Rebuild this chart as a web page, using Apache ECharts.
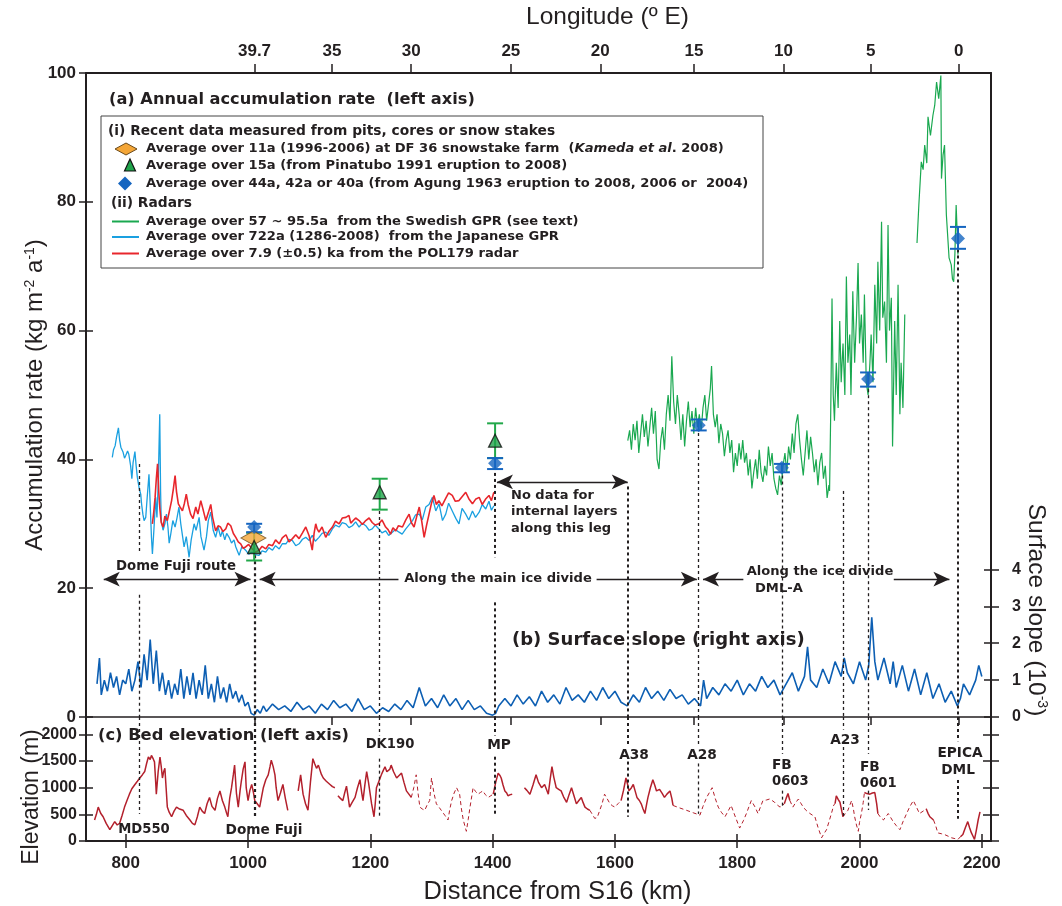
<!DOCTYPE html>
<html><head><meta charset="utf-8">
<script src="https://cdn.jsdelivr.net/npm/echarts@6/dist/echarts.min.js"></script>
<style>html,body{margin:0;padding:0;background:#fff}#c{width:1062px;height:906px}</style>
</head><body><div id="c"></div><script>
// ---------------- DATA ----------------
const distTicks = [800, 1000, 1200, 1400, 1600, 1800, 2000, 2200];
const lonTickKm = [1010.6, 1137.2, 1266.7, 1429.8, 1576, 1729.3, 1875.5, 2018.3, 2162.2];
const lonTickLabels = ['39.7', '35', '30', '25', '20', '15', '10', '5', '0'];
const slopeTicks = [0, 1, 2, 3, 4];
const elevTicks = [0, 500, 1000, 1500, 2000];

// Japanese GPR (722a) accumulation, [km, kg m-2 a-1]
const japaneseGpr = [[778,40.3],[780,41.5],[782.6,42.1],[785,43.5],[788,44.9],[790,43],[792,41.9],[795.7,41.1],[798,40.2],[800,40.6],[803,41.3],[805,40.8],[808,39],[810,37],[812,39.5],[815,41.2],[817,39],[819,37.2],[822,35.5],[824.5,34.6],[826,33],[828,31.5],[830,30.5],[832.7,31],[835,34],[838,37.7],[840,33],[842,28],[843.6,25.3],[846,29],[849,34.1],[851,31],[853,36],[855.6,47],[857,35],[858,30.5],[861,29],[864,30],[866.5,31.5],[869,29.5],[871,27],[873.6,28.4],[877,30.5],[880.7,29.5],[884,31],[887,32.6],[890,30],[893,28],[895.4,26.4],[899,28],[903.6,24.8],[907,27.5],[911.8,30],[915,29],[920,31],[923,28],[928,25.9],[932,28],[935,30.5],[939,31.8],[943,29],[947,27.9],[951,29.5],[955,28],[958,28.9],[962,27.5],[965,28.5],[969,27.9],[973,27],[977,27.5],[980,26.4],[985.4,25.1],[990,26.5],[996,25.9],[1001,25.3],[1007,25.6],[1012,25.2],[1018,25.1],[1023,25.8],[1029,25.6],[1034,26.3],[1040,25.9],[1045,26.6],[1051,26.1],[1056,26.9],[1062,26.9],[1067,27.6],[1072.6,27.4],[1078,26.6],[1083.5,26.9],[1089,27.6],[1094.4,27.9],[1100,27.4],[1105,28.2],[1110,27.3],[1116,27.9],[1121,28.5],[1127,28.7],[1132,28.2],[1138,29.2],[1143,29.8],[1149,29.5],[1154,30.2],[1160,30],[1165,29.4],[1170.7,29.7],[1176,30.3],[1181.6,29.5],[1187,30.1],[1192.5,29.7],[1198,29],[1203,29.2],[1208,29.8],[1214,29.2],[1219,28.6],[1225,28.9],[1230,28.2],[1236,28.7],[1241,29.1],[1247,28.7],[1252,28.4],[1258,29.2],[1263,29.8],[1269,30.5],[1274,31.4],[1280,31.5],[1285,30.6],[1290.6,32.6],[1296,33],[1301.5,34.1],[1307,32],[1312.4,33.1],[1318,30.5],[1323.3,31.5],[1328,33.2],[1334,32],[1340,30.8],[1345,30],[1350,32.4],[1356,31.5],[1361,30.6],[1367,32],[1372,31],[1378,31.8],[1383,33],[1388.7,32.3],[1394,33.5],[1398,32.1],[1402,32.8]];

// POL179 radar (7.9 ka) accumulation
const pol179 = [[843.6,30],[846,32],[848,34.1],[850,37],[852,39.3],[854,35],[855.6,32.6],[858,30.2],[861,29.5],[864,31.2],[868,30.5],[871,31.8],[875,33.6],[878,35.5],[880.7,37.5],[883,35],[886,33.1],[889,32.6],[892.7,32],[896,33.2],[899,34.6],[902,33],[906,31.5],[910,30.8],[914.5,32.6],[918,31.5],[922.7,33.6],[926,32.4],[931,30.5],[935,31.7],[939,33],[942,31],[947,28.9],[951,29.7],[955,29.5],[959,28.8],[963.5,29.2],[967,30.1],[971.7,29.7],[976,28.5],[980,27.9],[984,27.2],[988,26.9],[992,26.2],[996,26.4],[1001,26.8],[1007,26.1],[1012,25.6],[1018,25.9],[1023,26.5],[1029,26.1],[1034,26.8],[1040,26.6],[1045,27.5],[1051,26.9],[1056,27.8],[1062,28.3],[1067,27.2],[1072.6,27.7],[1078,28.3],[1083.5,27.7],[1089,28.6],[1094.4,29.5],[1100,28.1],[1105,25.9],[1108,28.5],[1110.7,30],[1113,29.2],[1116,28.7],[1121,29.5],[1127,27.9],[1132,28.8],[1138,29.5],[1143,30.4],[1149,30],[1154,30.9],[1160,31],[1165,31.3],[1168,30.1],[1170.7,30.2],[1176,30.9],[1181.6,30.5],[1187,29.9],[1192.5,30.5],[1198,30.9],[1203,30.2],[1208,29.8],[1214,30],[1219,30.6],[1225,29.5],[1229,29.1],[1233,28.4],[1237,29.4],[1241.6,28.9],[1246,29.7],[1252.5,29.5],[1258,30.6],[1263.4,31.5],[1267,30.2],[1271.5,29.5],[1276,31.2],[1280,32.6],[1284,30.4],[1288,27.9],[1292,29.8],[1296,31.5],[1300,33.2],[1304,34.4],[1308,33],[1312,33.6],[1317,32.8],[1323,33.9],[1328,34.8],[1334,34.4],[1339,33.5],[1345,33.6],[1350,34.2],[1356,34.9],[1361,33.9],[1367,33.1],[1372,33.8],[1378,34.1],[1383,33],[1389,33.9],[1394,34.4],[1398,33.6],[1402,34.9]];

// Swedish GPR accumulation (null = gap)
const swedishGpr = [[1621,42.9],[1624,44.5],[1627,41.5],[1630,45.5],[1633,43],[1636,46],[1639,41],[1642,44],[1645,47],[1648,43.5],[1651,46],[1654,42],[1657,45],[1660,48],[1663,44],[1666,47.5],[1669,40],[1672,38.5],[1675,43],[1678,45],[1681,41.5],[1684,47],[1687,50],[1690,46],[1693,56],[1696,49],[1699,45.5],[1702,50],[1705,47],[1708,43],[1711,47],[1714,42],[1717,46],[1720,49],[1723,45],[1726,47.5],[1729,44],[1732,48],[1735,45],[1738,47],[1741,44.5],[1744,48],[1747,50],[1750,46],[1753,48.5],[1756,51],[1758,54.5],[1761,47],[1764,45],[1767,47],[1770,42.5],[1773,45.5],[1776,44],[1779,40.5],[1782,43],[1785,44.5],[1788,41],[1791,43],[1794,38],[1797,41],[1800,39],[1803,42.5],[1806,40],[1809,43],[1812,39.5],[1815,41],[1818,37.5],[1821,40],[1824,35.5],[1827,38],[1830,40],[1833,37],[1836,41.5],[1839,38],[1842,36.5],[1845,39],[1848,37.5],[1851,42],[1854,39],[1857,41],[1860,37],[1863,35.5],[1866,34.5],[1869,37.5],[1872,36],[1875,39],[1878,41],[1881,38],[1884,42],[1887,40],[1890,44],[1893,41],[1896,45.5],[1899,47],[1902,43],[1905,40],[1908,37.5],[1911,41],[1914,44.5],[1917,40],[1920,43.5],[1923,41],[1926,38],[1929,40],[1932,36],[1935,39.5],[1938,41],[1941,37],[1944,39],[1947,34],[1950,36],[1951,35.1],[1953,48],[1955,65],[1957,50],[1959,46],[1962,55],[1965,48],[1967.6,61.5],[1970,52],[1973,58],[1976,50],[1978.5,68.4],[1981,55],[1984,59.4],[1986,50],[1989,66.1],[1992,55],[1995,62],[1997.6,70.5],[2000,58],[2003,62.5],[2006,55],[2008,65.6],[2011,52],[2014,50],[2017,55],[2019,59.4],[2022,52],[2025,67.1],[2028,58],[2030,70.7],[2033,60],[2036,76.9],[2038,62],[2041,64.5],[2044,55],[2046.6,76.4],[2049,60],[2052,65.1],[2054,42],[2057.5,61.5],[2060,50],[2063,67.1],[2066,47],[2068,55],[2071,48],[2074,62.5],null,[2094,73.6],[2097,79.5],[2101,86.2],[2104,85],[2106.6,88.8],[2110,86],[2112,93.2],[2116,90.3],[2120,93.4],[2123,95],[2126,98.6],[2129.5,96],[2133,99.6],[2134,83.6],[2136.6,87.3],[2139,88.8],[2142,78],[2146.4,71.3],[2150,70.2],[2152,68],[2154,67.6],[2156,72],[2158,79.5],[2161,71.8]];

// Surface slope (10^-3)
const surfaceSlope = [[753,0.9],[757,1.6],[760,0.6],[765,1.0],[770,0.7],[775,1.2],[780,0.8],[785,1.1],[790,0.6],[795,1.0],[800,0.9],[805,1.3],[810,0.7],[815,1.0],[820,1.5],[825,0.8],[830,1.7],[835,1.0],[840,2.1],[845,0.9],[850,1.8],[855,0.7],[860,1.2],[865,0.6],[870,1.0],[875,0.5],[880,0.9],[885,0.6],[890,1.3],[895,0.5],[900,1.1],[905,0.6],[910,1.2],[915,0.5],[920,1.0],[925,0.6],[930,1.4],[935,0.5],[940,0.9],[945,0.4],[950,1.1],[955,0.5],[960,0.8],[965,0.4],[970,0.9],[975,0.5],[980,0.7],[985,0.4],[990,0.6],[995,0.3],[1000,0.4],[1005,0.1],[1010,0.05],[1015,0.2],[1020,0.1],[1025,0.3],[1030,0.15],[1040,0.35],[1050,0.2],[1060,0.3],[1070,0.15],[1080,0.4],[1090,0.2],[1100,0.3],[1110,0.1],[1120,0.35],[1130,0.2],[1140,0.45],[1150,0.25],[1160,0.35],[1170,0.15],[1180,0.5],[1190,0.2],[1200,0.3],[1210,0.1],[1220,0.25],[1230,0.15],[1240,0.35],[1250,0.2],[1260,0.45],[1270,0.25],[1280,0.8],[1290,0.3],[1300,0.5],[1310,0.25],[1320,0.6],[1330,0.3],[1340,0.5],[1350,0.2],[1360,0.45],[1370,0.2],[1380,0.3],[1390,0.1],[1400,0.05],[1405,0.1],[1410,0.3],[1420,0.5],[1430,0.3],[1440,0.6],[1450,0.35],[1460,0.55],[1470,0.3],[1480,0.7],[1490,0.4],[1500,0.6],[1510,0.35],[1520,0.8],[1530,0.45],[1540,0.6],[1550,0.4],[1560,0.7],[1570,0.45],[1580,0.8],[1590,0.5],[1600,0.7],[1610,0.4],[1620,0.3],[1630,0.6],[1640,0.4],[1650,0.8],[1660,0.5],[1670,0.7],[1680,0.45],[1690,0.75],[1700,0.5],[1710,0.6],[1720,0.35],[1730,0.5],[1740,0.3],[1745,1.0],[1750,0.5],[1760,0.8],[1770,0.6],[1780,0.9],[1790,0.7],[1800,1.0],[1810,0.6],[1820,0.9],[1830,0.7],[1840,1.1],[1850,0.8],[1860,1.0],[1870,0.6],[1880,0.9],[1890,1.2],[1900,0.7],[1910,1.1],[1915,1.9],[1920,1.0],[1930,0.8],[1940,1.3],[1950,0.9],[1960,1.5],[1970,1.1],[1975,1.6],[1980,1.2],[1990,0.9],[2000,1.5],[2010,1.0],[2015,1.4],[2020,2.7],[2025,1.5],[2030,1.0],[2040,1.6],[2050,0.9],[2055,1.5],[2060,0.8],[2070,1.4],[2080,0.7],[2090,1.3],[2100,0.6],[2110,1.2],[2120,0.5],[2130,0.9],[2140,0.4],[2150,0.7],[2160,0.3],[2165,0.5],[2170,0.9],[2180,0.6],[2190,1.0],[2195,1.4],[2200,1.1]];

// Bed elevation (m): measured (solid) and interpolated (dashed) parts
const bedSolid = [[749,394],[752,500],[755,636],[759,520],[763,455],[768,330],[774,212],[778,290],[782,364],[786,300],[790,333],[794,480],[798,636],[802,760],[806,879],[810,980],[815,1061],[819,1120],[823,1182],[827,1240],[831,1303],[834,1450],[837,1576],[840,1530],[842,1606],[845,1540],[847,1485],[849,1100],[850,879],[853,1300],[856,1576],[858,1400],[860,1182],[862,1300],[864,1364],[866,1000],[868,636],[871,540],[875,455],[879,560],[883,636],[888,600],[894,576],[899,480],[905,394],[909,330],[913,303],[917,450],[921,636],[925,560],[929,515],[933,700],[937,818],[941,650],[946,576],[950,800],[954,940],[958,760],[962,636],[965,520],[967,455],[970,800],[973,1000],[976,1250],[978,1424],[981,900],[984,636],[987,950],[989,1121],[992,1350],[995,1485],[997,1000],[1000,758],[1003,950],[1006,1061],[1009,900],[1011,758],[1015,700],[1019,636],[1022,820],[1025,1000],[1029,1150],[1033,1242],[1036,1400],[1038,1515],[1041,1400],[1044,1242],[1046,1000],[1049,758],[1053,900],[1057,1061],[1061,800],[1065,576],null,[1082,940],[1086,1242],[1090,879],[1094,700],[1098,576],[1102,1100],[1106,1545],[1109,1450],[1112,1364],[1115,1424],[1117,1424],[1120,1250],[1123,1182],[1126,1150],[1128,1121],[1131,1100],[1134,1061],[1138,1020],[1142,1000],null,[1147,849],[1151,800],[1155,758],[1158,900],[1161,1030],[1164,800],[1166,636],[1170,720],[1175,818],[1179,1000],[1183,1151],[1186,900],[1188,758],[1191,1050],[1194,1303],[1197,1100],[1199,940],[1202,700],[1206,455],[1208,700],[1210,1000],[1214,1120],[1218,1242],[1221,1320],[1224,1394],[1227,1300],[1229,1273],[1232,1350],[1234,1424],[1238,1300],[1243,1182],[1247,1230],[1251,1273],[1255,1100],[1259,940],[1263,880],[1267,818],null,[1401,879],[1405,1100],[1409,1273],[1412,1230],[1414,1182],[1417,1050],[1420,940],[1423,900],[1425,849],[1429,870],[1432,879],null,[1452,1000],[1456,950],[1461,879],[1466,1050],[1471,1242],[1475,1100],[1480,1000],[1485,1061],[1491,879],[1494,1150],[1497,1394],[1500,1200],[1504,1000],[1508,970],[1512,940],[1516,830],[1521,727],[1525,870],[1529,1000],[1533,850],[1537,697],[1541,760],[1545,818],[1548,720],[1551,636],[1555,600],[1559,576],null,[1610,758],[1614,950],[1618,1182],[1621,1050],[1623,940],[1627,1000],[1630,1061],[1633,940],[1636,818],[1640,760],[1643,697],[1646,600],[1649,515],[1652,700],[1654,818],[1658,1000],[1662,1151],[1665,1050],[1668,940],[1671,960],[1673,970],[1677,900],[1681,818],[1685,880],[1690,940],[1693,800],[1695,667],null,[1877,697],[1880,800],[1883,891],[1886,760],null,[1960,700],[1962,849],[1965,780],[1968,727],[1971,560],[1973,455],null,[2008,909],[2012,890],[2017,879],[2021,900],[2025,909],[2028,700],[2030,515],null,[2109,606],[2112,520],[2115,455],[2118,420],[2121,394],null,[2165,80],[2169,121],[2173,250],[2177,364],[2180,250],[2183,152],[2186,80],[2188,30],[2191,200],[2194,394],[2197,546]];
const bedDashed = [[1267,818],[1271,1000],[1275,1242],[1278,900],[1281,636],[1285,600],[1289,576],[1293,680],[1297,758],[1300,1182],[1304,900],[1308,697],[1312,640],[1316,576],[1322,480],[1327,394],[1330,600],[1333,758],[1337,900],[1341,1000],[1346,879],[1349,600],[1352,394],[1357,182],[1360,400],[1363,636],[1366,850],[1368,1000],[1372,930],[1376,879],[1380,910],[1384,940],[1388,870],[1393,818],[1397,850],[1401,879],null,[1559,576],[1563,500],[1567,424],[1571,440],[1574,455],[1579,700],[1583,879],[1587,800],[1592,697],[1596,660],[1600,636],[1605,700],[1610,758],null,[1695,667],[1706,620],[1717,576],[1728,530],[1739,485],[1744,650],[1750,818],[1755,920],[1759,1000],[1764,800],[1769,636],[1774,540],[1780,455],[1785,560],[1790,667],[1797,450],[1804,243],[1810,380],[1815,515],[1819,640],[1823,758],[1829,640],[1834,515],[1838,640],[1842,758],[1848,770],[1853,788],[1857,760],[1861,727],[1865,680],[1870,636],[1874,670],[1877,697],null,[1886,760],[1891,636],[1895,710],[1900,788],[1904,710],[1908,636],[1913,570],[1919,515],[1923,485],[1927,455],[1932,260],[1938,61],[1942,140],[1946,212],[1950,360],[1954,515],[1958,680],[1960,700],null,[1973,455],[1977,520],[1981,576],[1984,670],[1987,758],[1990,600],[1992,455],[1995,300],[1998,182],[2000,350],[2003,515],[2006,720],[2008,909],null,[2030,515],[2034,450],[2039,394],[2043,455],[2047,515],[2051,440],[2055,364],[2060,290],[2066,212],[2071,360],[2077,515],[2082,640],[2088,758],[2093,640],[2098,515],[2104,560],[2109,606],null,[2121,394],[2125,270],[2128,152],[2134,136],[2139,121],[2145,90],[2150,61],[2156,45],[2161,30],[2165,80]];

// Point measurements
const snowStake = [[1008.8, 27.8]];
const pinatubo = [[1010, 26.4], [1215.3, 34.9], [1404, 42.9]];
const pinatuboErr = [[1010, 24.3, 28.6], [1215.3, 32.2, 37.0], [1404, 40.2, 45.6]];
const agung = [[1010, 29.5], [1404, 39.4], [1737, 45.3], [1873, 38.7], [2014, 52.5], [2161, 74.3]];
const agungErr = [[1010, 28.7, 30.0], [1404, 38.5, 40.2], [1737, 44.5, 46.2], [1873, 38.0, 39.3], [2014, 51.3, 53.5], [2161, 72.7, 76.1]];

// Site markers (km)
const siteNames = ['MD550', 'Dome Fuji', 'DK190', 'MP', 'A38', 'A28', 'FB0603', 'A23', 'FB0601', 'EPICA DML'];
const siteKm = [822, 1011, 1215, 1404, 1621.6, 1737, 1873, 1974, 2014, 2161];

// ---------------- CHART ----------------
const FONT = '"Liberation Sans", Arial, Helvetica, sans-serif';
const WIDE = '"DejaVu Sans", Verdana, sans-serif';
const INK = '#231f20';
const X_MIN = 735, X_MAX = 2215, SLOPE_MAX = 17.46, ELEV_MAX = 2327;

const chart = echarts.init(document.getElementById('c'), null, {renderer: 'canvas'});

function errRender(color) {
  return function (params, api) {
    const x = api.value(0), lo = api.value(1), hi = api.value(2);
    const p1 = api.coord([x, lo]), p2 = api.coord([x, hi]);
    const w = 8;
    const st = {stroke: color, lineWidth: 2};
    return {type: 'group', children: [
      {type: 'line', shape: {x1: p1[0], y1: p1[1], x2: p2[0], y2: p2[1]}, style: st},
      {type: 'line', shape: {x1: p1[0] - w, y1: p1[1], x2: p1[0] + w, y2: p1[1]}, style: st},
      {type: 'line', shape: {x1: p2[0] - w, y1: p2[1], x2: p2[0] + w, y2: p2[1]}, style: st}
    ]};
  };
}

function vseg(i, a, b, w) {
  return [{coord: [siteKm[i], a], lineStyle: {width: w || 1.3}}, {coord: [siteKm[i], b]}];
}
// upper panel (accumulation units)
const upperSegs = [vseg(0, 39.3, 25.4), vseg(0, 19.0, 0), vseg(1, 25.1, 0, 2.2), vseg(2, 32.0, 0),
  vseg(3, 37.9, 24.8, 2), vseg(3, 17.8, 0, 2), vseg(4, 35.8, 0, 2), vseg(5, 44.1, 0), vseg(6, 37.5, 0),
  vseg(7, 35.1, 0), vseg(8, 50.9, 0), vseg(9, 72.6, 0, 2)];
// lower panel (elevation units)
const lowerSegs = [vseg(0, ELEV_MAX, 509), vseg(1, ELEV_MAX, 455, 2.2), vseg(2, ELEV_MAX, 1982), vseg(2, 1545, 455),
  vseg(3, ELEV_MAX, 1982, 2), vseg(3, 1582, 491, 2), vseg(4, ELEV_MAX, 1780, 2), vseg(4, 1491, 455, 2),
  vseg(5, ELEV_MAX, 1820), vseg(5, 1455, 509), vseg(6, ELEV_MAX, 1636), vseg(6, 945, 636),
  vseg(7, ELEV_MAX, 2090), vseg(7, 1764, 455), vseg(8, ELEV_MAX, 1636), vseg(8, 945, 582),
  vseg(9, ELEV_MAX, 1873, 2), vseg(9, 1145, 418, 2)];
function arrow(x1, x2, y, s1, s2) {
  return [{coord: [x1, y], symbol: s1}, {coord: [x2, y], symbol: s2}];
}
const arrows = [arrow(764, 1004, 21.4, 'arrow', 'arrow'), arrow(1019, 1246, 21.4, 'arrow', 'none'),
  arrow(1570, 1734, 21.4, 'none', 'arrow'), arrow(1744, 1810, 21.4, 'arrow', 'none'),
  arrow(2056, 2147, 21.4, 'none', 'arrow'), arrow(1407, 1621, 36.5, 'arrow', 'arrow')];

const tickStyle = {color: INK, width: 1.5};
function lonLabel(v) { const i = lonTickKm.indexOf(v); return i >= 0 ? lonTickLabels[i] : ''; }
const plain = v => String(v);

const boldTxt = (x, y, text, size, align, extra) => Object.assign({
  type: 'text', x: x, y: y, z: 50,
  style: {text: text, font: 'bold ' + (size || 13.5) + 'px ' + WIDE, fill: INK,
    align: align || 'center', verticalAlign: 'middle'}
}, extra || {});

const legendItems = [
  {type: 'polygon', shape: {points: [[115, 149], [126, 143], [137, 149], [126, 155]]}, style: {fill: '#f4a637', stroke: '#6b4a1a', lineWidth: 1}},
  {type: 'polygon', shape: {points: [[130, 159], [135.5, 171], [124.5, 171]]}, style: {fill: '#1fa34a', stroke: '#111', lineWidth: 1.2}},
  {type: 'polygon', shape: {points: [[125, 176.5], [132, 183.5], [125, 190.5], [118, 183.5]]}, style: {fill: '#1565c0'}},
  {type: 'line', shape: {x1: 112, y1: 221.5, x2: 139, y2: 221.5}, style: {stroke: '#1aa850', lineWidth: 2}},
  {type: 'line', shape: {x1: 112, y1: 237, x2: 139, y2: 237}, style: {stroke: '#1aa0e0', lineWidth: 2}},
  {type: 'line', shape: {x1: 112, y1: 253.5, x2: 139, y2: 253.5}, style: {stroke: '#e8262c', lineWidth: 2}}
].map(e => Object.assign({z: 50}, e));

const LG = 13.1;
const option = {
  animation: false,
  backgroundColor: '#fff',
  grid: [
    {left: 86, top: 71, width: 905, height: 646, containLabel: false},
    {left: 86, top: 717, width: 905, height: 128, containLabel: false}
  ],
  xAxis: [
    {gridIndex: 0, type: 'value', min: X_MIN, max: X_MAX, position: 'bottom',
      axisLine: {show: true, onZero: false, lineStyle: {color: INK, width: 1.5}}, axisTick: {show: false}, axisLabel: {show: false}, splitLine: {show: false}},
    {gridIndex: 0, type: 'value', min: X_MIN, max: X_MAX, position: 'top',
      axisLine: {show: true, onZero: false, lineStyle: {color: INK, width: 2}},
      axisTick: {show: true, length: 9, lineStyle: tickStyle, customValues: lonTickKm},
      axisLabel: {customValues: lonTickKm, formatter: lonLabel, fontFamily: FONT, fontSize: 17, fontWeight: 'bold', color: INK, margin: 13},
      name: 'Longitude (º E)', nameLocation: 'middle', nameGap: 43, nameMoveOverlap: false,
      nameTextStyle: {fontFamily: FONT, fontSize: 24.5, color: INK, padding: [0, 0, 0, 138]},
      splitLine: {show: false}},
    {gridIndex: 0, type: 'value', min: X_MIN, max: X_MAX, position: 'top',
      axisLine: {show: false}, axisTick: {show: true, inside: true, length: 8, lineStyle: tickStyle, customValues: lonTickKm},
      axisLabel: {show: false}, splitLine: {show: false}},
    {gridIndex: 1, type: 'value', min: X_MIN, max: X_MAX, position: 'bottom',
      axisLine: {show: true, onZero: false, lineStyle: {color: INK, width: 2}},
      axisTick: {show: true, length: 7, lineStyle: tickStyle, customValues: distTicks},
      axisLabel: {customValues: distTicks, formatter: plain, fontFamily: FONT, fontSize: 17, fontWeight: 'bold', color: INK, margin: 14},
      name: 'Distance from S16 (km)', nameLocation: 'middle', nameGap: 38, nameMoveOverlap: false,
      nameTextStyle: {fontFamily: FONT, fontSize: 25.5, color: INK, padding: [0, 0, 0, 38]},
      splitLine: {show: false}},
    {gridIndex: 1, type: 'value', min: X_MIN, max: X_MAX, position: 'bottom',
      axisLine: {show: false}, axisTick: {show: true, inside: true, length: 7, lineStyle: tickStyle, customValues: distTicks},
      axisLabel: {show: false}, splitLine: {show: false}}
  ],
  yAxis: [
    {gridIndex: 0, type: 'value', min: 0, max: 100, interval: 20, position: 'left',
      axisLine: {show: true, onZero: false, lineStyle: {color: INK, width: 2}},
      axisTick: {show: true, length: 7, lineStyle: tickStyle},
      axisLabel: {fontFamily: FONT, fontSize: 17, fontWeight: 'bold', color: INK, margin: 10},
      name: 'Accumulation rate (kg m{sup|-2} a{sup|-1})', nameLocation: 'middle', nameGap: 39, nameRotate: 90, nameMoveOverlap: false,
      nameTextStyle: {fontFamily: FONT, fontSize: 24, color: INK,
        rich: {sup: {fontFamily: FONT, fontSize: 14, color: INK, verticalAlign: 'top', lineHeight: 15}}},
      splitLine: {show: false}},
    {gridIndex: 0, type: 'value', min: 0, max: SLOPE_MAX, position: 'right',
      axisLine: {show: true, onZero: false, lineStyle: {color: INK, width: 2}},
      axisTick: {show: true, length: 8, lineStyle: tickStyle, customValues: slopeTicks},
      axisLabel: {customValues: slopeTicks, fontFamily: FONT, fontSize: 16, fontWeight: 'bold', color: INK, margin: 21},
      splitLine: {show: false}},
    {gridIndex: 1, type: 'value', min: 0, max: ELEV_MAX, position: 'left',
      axisLine: {show: true, onZero: false, lineStyle: {color: INK, width: 2}},
      axisTick: {show: true, length: 7, lineStyle: tickStyle, customValues: elevTicks},
      axisLabel: {customValues: elevTicks, formatter: plain, fontFamily: FONT, fontSize: 16, fontWeight: 'bold', color: INK, margin: 9},
      splitLine: {show: false}},
    {gridIndex: 1, type: 'value', min: 0, max: ELEV_MAX, position: 'right',
      axisLine: {show: true, onZero: false, lineStyle: {color: INK, width: 2}},
      axisTick: {show: true, length: 8, lineStyle: tickStyle, customValues: elevTicks},
      axisLabel: {show: false}, splitLine: {show: false}},
    {gridIndex: 0, type: 'value', min: 0, max: 100, interval: 20, position: 'left',
      axisLine: {show: false}, axisTick: {show: true, inside: true, length: 7, lineStyle: tickStyle},
      axisLabel: {show: false}, splitLine: {show: false}},
    {gridIndex: 0, type: 'value', min: 0, max: SLOPE_MAX, position: 'right',
      axisLine: {show: false}, axisTick: {show: true, inside: true, length: 7, lineStyle: tickStyle, customValues: slopeTicks},
      axisLabel: {show: false}, splitLine: {show: false}},
    {gridIndex: 1, type: 'value', min: 0, max: ELEV_MAX, position: 'left',
      axisLine: {show: false}, axisTick: {show: true, inside: true, length: 7, lineStyle: tickStyle, customValues: elevTicks},
      axisLabel: {show: false}, splitLine: {show: false}},
    {gridIndex: 1, type: 'value', min: 0, max: ELEV_MAX, position: 'right',
      axisLine: {show: false}, axisTick: {show: true, inside: true, length: 8, lineStyle: tickStyle, customValues: elevTicks},
      axisLabel: {show: false}, splitLine: {show: false}}
  ],
  series: [
    {name: 'Surface slope', type: 'line', xAxisIndex: 0, yAxisIndex: 1, data: surfaceSlope, showSymbol: false,
      lineStyle: {color: '#0d5fb3', width: 1.6}, z: 3},
    {name: 'Average over 722a (1286-2008)  from the Japanese GPR', type: 'line', xAxisIndex: 0, yAxisIndex: 0, data: japaneseGpr,
      showSymbol: false, lineStyle: {color: '#1aa0e0', width: 1.3}, z: 3},
    {name: 'Average over 7.9 (±0.5) ka from the POL179 radar', type: 'line', xAxisIndex: 0, yAxisIndex: 0, data: pol179,
      showSymbol: false, lineStyle: {color: '#e8262c', width: 1.6}, z: 4},
    {name: 'Average over 57 ~ 95.5a  from the Swedish GPR (see text)', type: 'line', xAxisIndex: 0, yAxisIndex: 0, data: swedishGpr,
      showSymbol: false, connectNulls: false, lineStyle: {color: '#1aa850', width: 1.2}, z: 3},
    {name: 'Bed elevation', type: 'line', xAxisIndex: 3, yAxisIndex: 2, data: bedSolid, showSymbol: false, connectNulls: false,
      lineStyle: {color: '#b3202c', width: 1.5}, z: 3},
    {name: 'Bed elevation (interpolated)', type: 'line', xAxisIndex: 3, yAxisIndex: 2, data: bedDashed, showSymbol: false, connectNulls: false,
      lineStyle: {color: '#b3202c', width: 1, type: [4, 3]}, z: 3},
    {name: 'Pinatubo error', type: 'custom', xAxisIndex: 0, yAxisIndex: 0, data: pinatuboErr, renderItem: errRender('#22a84a'),
      encode: {x: 0, y: [1, 2]}, z: 5},
    {name: 'Agung error', type: 'custom', xAxisIndex: 0, yAxisIndex: 0, data: agungErr, renderItem: errRender('#1565c0'),
      encode: {x: 0, y: [1, 2]}, z: 5},
    {name: 'Average over 11a (1996-2006) at DF 36 snowstake farm  (Kameda et al. 2008)', type: 'scatter', xAxisIndex: 0, yAxisIndex: 0,
      data: snowStake, symbol: 'diamond', symbolSize: [25, 14], itemStyle: {color: '#f4a637', borderColor: '#6b4a1a', borderWidth: 1}, z: 6},
    {name: 'Average over 15a (from Pinatubo 1991 eruption to 2008)', type: 'scatter', xAxisIndex: 0, yAxisIndex: 0,
      data: pinatubo, symbol: 'triangle', symbolSize: [13, 13], itemStyle: {color: '#1fa34a', borderColor: '#111', borderWidth: 1.3}, z: 7},
    {name: 'Average over 44a, 42a or 40a (from Agung 1963 eruption to 2008, 2006 or  2004)', type: 'scatter', xAxisIndex: 0, yAxisIndex: 0,
      data: agung, symbol: 'diamond', symbolSize: [14, 14], itemStyle: {color: '#1565c0'}, z: 8},
    {name: 'upper annotations', type: 'line', xAxisIndex: 0, yAxisIndex: 0, data: [[X_MIN, -10]], showSymbol: false,
      lineStyle: {opacity: 0}, silent: true, z: 2,
      markLine: {silent: true, symbol: 'none', label: {show: false},
        lineStyle: {color: INK, width: 1.3, type: [3, 3]}, data: upperSegs}},
    {name: 'arrows', type: 'line', xAxisIndex: 0, yAxisIndex: 0, data: [[X_MIN, -10]], showSymbol: false,
      lineStyle: {opacity: 0}, silent: true, z: 2,
      markLine: {silent: true, symbolSize: [11, 16], label: {show: false},
        lineStyle: {color: INK, width: 1.3, type: 'solid'}, data: arrows}},
    {name: 'lower annotations', type: 'line', xAxisIndex: 3, yAxisIndex: 2, data: [[X_MIN, -100]], showSymbol: false,
      lineStyle: {opacity: 0}, silent: true, z: 2,
      markLine: {silent: true, symbol: 'none', label: {show: false},
        lineStyle: {color: INK, width: 1.3, type: [3, 3]}, data: lowerSegs}}
  ],
  graphic: [
    boldTxt(109, 100, '(a) Annual accumulation rate  (left axis)', 16.2, 'left'),
    {type: 'rect', z: 49, shape: {x: 101, y: 116, width: 662, height: 152}, style: {fill: 'rgba(255,255,255,0)', stroke: '#444', lineWidth: 1}},
    boldTxt(108, 131.5, '(i) Recent data measured from pits, cores or snow stakes', 13.8, 'left'),
    {type: 'text', x: 146, y: 149, z: 50, style: {text: 'Average over 11a (1996-2006) at DF 36 snowstake farm  ({it|Kameda et al}. 2008)',
      font: 'bold ' + LG + 'px ' + WIDE, fill: INK, align: 'left', verticalAlign: 'middle',
      rich: {it: {font: 'italic bold ' + LG + 'px ' + WIDE, fill: INK}}}},
    boldTxt(146, 165.5, 'Average over 15a (from Pinatubo 1991 eruption to 2008)', LG, 'left'),
    boldTxt(146, 183.5, 'Average over 44a, 42a or 40a (from Agung 1963 eruption to 2008, 2006 or  2004)', LG, 'left'),
    boldTxt(111, 203, '(ii) Radars', 13.8, 'left'),
    boldTxt(146, 221.5, 'Average over 57 ~ 95.5a  from the Swedish GPR (see text)', LG, 'left'),
    boldTxt(146, 237, 'Average over 722a (1286-2008)  from the Japanese GPR', LG, 'left'),
    boldTxt(146, 253.5, 'Average over 7.9 (±0.5) ka from the POL179 radar', LG, 'left'),
    ...legendItems,
    boldTxt(176, 567, 'Dome Fuji route', 13.3),
    boldTxt(498, 579, 'Along the main ice divide', 13.1),
    boldTxt(820, 572, 'Along the ice divide', 13.1),
    boldTxt(755, 589, 'DML-A', 13.1, 'left'),
    {type: 'text', x: 511, y: 487, z: 50, style: {text: 'No data for\ninternal layers\nalong this leg', font: 'bold 13px ' + WIDE,
      fill: INK, align: 'left', verticalAlign: 'top', lineHeight: 16.5}},
    boldTxt(512, 640, '(b) Surface slope (right axis)', 18, 'left'),
    boldTxt(98, 736, '(c) Bed elevation (left axis)', 16.3, 'left'),
    boldTxt(144, 830, 'MD550', 13.2),
    boldTxt(264, 830, 'Dome Fuji', 13.7),
    boldTxt(390, 745, 'DK190', 13.2),
    boldTxt(499, 745, 'MP', 13.7),
    boldTxt(634, 755, 'A38', 13.7),
    boldTxt(702, 755, 'A28', 13.7),
    boldTxt(772, 765, 'FB', 13.7, 'left'),
    boldTxt(772, 782, '0603', 13.2, 'left'),
    boldTxt(845, 740, 'A23', 13.7),
    boldTxt(860, 767, 'FB', 13.7, 'left'),
    boldTxt(860, 784, '0601', 13.2, 'left'),
    boldTxt(960, 753, 'EPICA', 13.7),
    boldTxt(958, 770, 'DML', 13.7),
    {type: 'text', x: 32, y: 797, rotation: Math.PI / 2, z: 50,
      style: {text: 'Elevation (m)', font: '23px ' + FONT, fill: INK, align: 'center', verticalAlign: 'middle'}},
    {type: 'text', x: 1036, y: 610, rotation: -Math.PI / 2, z: 50,
      style: {text: 'Surface slope (10{sup|-3})', font: '24.5px ' + FONT, fill: INK, align: 'center', verticalAlign: 'middle',
        rich: {sup: {font: '14px ' + FONT, fill: INK, verticalAlign: 'top', lineHeight: 15}}}}
  ]
};
chart.setOption(option);
</script></body></html>
